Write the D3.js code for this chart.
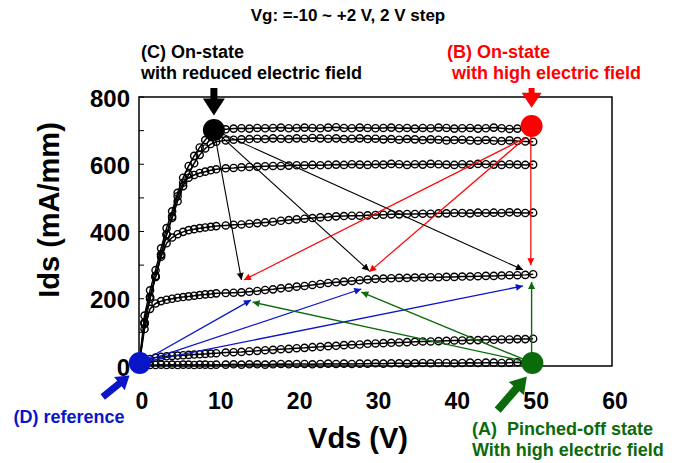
<!DOCTYPE html>
<html><head><meta charset="utf-8">
<script src="https://cdn.jsdelivr.net/npm/d3@7"></script>
<style>
body{margin:0;background:#fff}
text{font-family:"Liberation Sans",Arial,sans-serif;font-weight:bold}
</style>
</head><body><svg id="c" width="680" height="463"></svg>
<script>
// ---- data ----
const vds = [0,0.7,1.4,2.1,2.8,3.5,4.2,4.9,5.6,6.3,7,7.7,8.4,9.1,9.8,
  11,12,13,14,15,16,17,18,19,20,21,22,23,24,25,26,27,28,29,30,
  31,32,33,34,35,36,37,38,39,40,41,42,43,44,45,46,47,48,49,50];
const vgSteps = ["+2","0","-2","-4","-6","-8","-10"];
const ids_p2 = [0,150,225,285,350,410,460,515,560,595,625,650,672,690,700,
  704,706,707,706,708,707,708,709,707,708,709,708,707,709,710,708,707,709,708,707,
  708,709,707,708,706,708,707,709,708,706,707,708,706,707,709,707,705,706,707,706];
const ids_0 = [0,130,205,265,330,390,440,490,535,570,603,628,647,660,667,
  671,673,674,675,676,675,677,676,675,677,676,678,677,676,677,675,676,677,675,676,
  674,675,673,675,674,672,674,673,671,672,673,671,670,672,670,669,671,669,668,667];
const ids_m2 = [0,128,205,268,332,392,445,505,545,560,568,574,578,582,585,
  588,589,591,592,593,594,595,595,596,597,597,598,597,598,599,598,600,599,598,600,
  599,601,600,598,600,599,601,600,599,598,600,599,601,600,599,598,600,599,598,599];
const ids_m4 = [0,125,200,265,325,365,382,392,399,404,407,410,412,414,416,
  418,420,421,423,425,427,429,432,434,436,438,440,442,443,445,446,447,447,448,449,
  450,451,451,452,452,453,453,454,454,455,455,454,456,455,456,455,457,456,455,456];
const ids_m6 = [0,110,170,186,193,197,200,203,205,207,209,211,213,214,216,
  217,218,219,221,223,226,228,231,233,236,238,241,244,247,249,251,253,255,257,259,
  260,261,262,262,263,263,264,264,265,265,266,266,267,268,268,269,270,270,271,273];
const ids_m8 = [0,14,21,25,27,29,30,31,32,33,34,35,36,37,38,
  40,41,42,44,45,47,48,50,51,53,54,56,57,59,60,62,63,64,66,67,
  68,69,70,71,72,73,73,74,75,76,76,77,77,78,78,79,79,80,80,81];
const ids_m10 = [0,2,3,3,4,3,4,3,4,4,3,4,4,3,4,
  4,5,4,5,5,4,5,6,5,6,6,5,6,7,6,7,6,7,7,8,
  7,8,8,7,8,9,8,9,9,8,9,10,9,10,10,9,10,11,10,11];
const curves = [ids_p2, ids_0, ids_m2, ids_m4, ids_m6, ids_m8, ids_m10];

const xTicks = [0,10,20,30,40,50,60];
const yTicks = [0,200,400,600,800];
const yMinor = [100,300,500,700];

// state points [Vds, Ids]
const stateA = [49.9, 9], stateB = [49.8, 714], stateC = [9.5, 702], stateD = [0.1, 9];
// thin arrows: from -> to (data units)
const blackArrows = [[[9.5,702],[13.0,256]],[[9.5,702],[29.2,283]],[[9.5,702],[48.7,286]]];
const redArrows   = [[[49,678],[13.3,256]],[[49,678],[29.2,280]],[[49.7,700],[49.7,300]]];
const blueArrows  = [[[0.1,9],[14.2,196]],[[0.1,9],[28.2,229]],[[0.1,9],[48.7,238]]];
const greenArrows = [[[49.9,9],[14.4,190]],[[49.9,9],[28.2,220]],[[49.8,9],[49.8,250]]];
// big arrows: tail -> tip
const bigArrows = [
  {from:[9.5,827], to:[9.5,745], color:"#000000", sw:7, hw:22, hl:17},
  {from:[49.8,827], to:[49.8,768], color:"#ff0000", sw:6, hw:20, hl:15},
  {from:[-4.6,-92], to:[-1.2,-28], color:"#0a14c8", sw:7, hw:17, hl:13},
  {from:[45.5,-131], to:[49.2,-31], color:"#0b6b0b", sw:8, hw:20, hl:16}
];

// ---- drawing ----
const svg = d3.select("#c");
const x = d3.scaleLinear().domain([0,60]).range([139,612]);
const y = d3.scaleLinear().domain([0,800]).range([366,97]);

const defs = svg.append("defs");
function marker(id, color){
  defs.append("marker").attr("id",id).attr("viewBox","0 0 10 10")
    .attr("refX",10).attr("refY",5).attr("markerWidth",9).attr("markerHeight",7)
    .attr("markerUnits","userSpaceOnUse").attr("orient","auto")
    .append("path").attr("d","M0,0L10,5L0,10Z").attr("fill",color);
}
marker("mk","#000"); marker("mr","#ff0000"); marker("mb","#0a14c8"); marker("mg","#0b6b0b");

// frame
svg.append("rect").attr("x",x(0)).attr("y",y(800)).attr("width",x(60)-x(0)).attr("height",y(0)-y(800))
  .attr("fill","none").attr("stroke","#000").attr("stroke-width",1.5);

// y ticks (inside)
svg.append("g").selectAll("line").data(yTicks.concat(yMinor)).join("line")
  .attr("x1",x(0)).attr("x2",x(0)+5).attr("y1",d=>y(d)).attr("y2",d=>y(d))
  .attr("stroke","#000").attr("stroke-width",1);
svg.append("g").selectAll("text").data(yTicks).join("text")
  .attr("x",x(0)-9).attr("y",d=>y(d)+1).attr("text-anchor","end").attr("dominant-baseline","central")
  .attr("font-size",24).text(d=>d);
svg.append("g").selectAll("text").data(xTicks).join("text")
  .attr("x",d=>x(d)+3).attr("y",401).attr("text-anchor","middle").attr("dominant-baseline","central")
  .attr("font-size",23).text(d=>d);

// axis titles
svg.append("text").attr("x",358).attr("y",438).attr("text-anchor","middle").attr("dominant-baseline","central")
  .attr("font-size",29).text("Vds (V)");
svg.append("text").attr("transform","translate(59,210) rotate(-90)").attr("text-anchor","middle")
  .attr("font-size",29).text("Ids (mA/mm)");

// title
svg.append("text").attr("x",348).attr("y",15).attr("text-anchor","middle").attr("dominant-baseline","central")
  .attr("font-size",17).text("Vg: =-10 ~ +2 V, 2 V step");

// curves
const line = d3.line().x(d=>x(d[0])).y(d=>y(d[1]));
const cg = svg.append("g");
curves.forEach((c,i)=>{
  const pts = vds.map((v,j)=>[v,c[j]]);
  cg.append("path").attr("d",line(pts)).attr("fill","none").attr("stroke","#000").attr("stroke-width",1.5);
  cg.append("g").selectAll("circle").data(pts).join("circle")
    .attr("cx",d=>x(d[0])).attr("cy",d=>y(d[1])).attr("r",3.6)
    .attr("fill","none").attr("stroke","#000").attr("stroke-width",1.4);
});

// thin arrows
function thin(arr, color, mk, w){
  svg.append("g").selectAll("line").data(arr).join("line")
    .attr("x1",d=>x(d[0][0])).attr("y1",d=>y(d[0][1]))
    .attr("x2",d=>x(d[1][0])).attr("y2",d=>y(d[1][1]))
    .attr("stroke",color).attr("stroke-width",w).attr("marker-end",`url(#${mk})`);
}
thin(blackArrows,"#000","mk",1.1);
thin(redArrows,"#ff0000","mr",1.2);
thin(blueArrows,"#0a14c8","mb",1.3);
thin(greenArrows,"#0b6b0b","mg",1.4);

// state dots
const dots = [[stateC,"#000000"],[stateB,"#ff0000"],[stateD,"#0a14c8"],[stateA,"#0b6b0b"]];
svg.append("g").selectAll("circle").data(dots).join("circle")
  .attr("cx",d=>x(d[0][0])).attr("cy",d=>y(d[0][1])).attr("r",11).attr("fill",d=>d[1]);

// big arrows
function bigArrowPath(a){
  const x1=x(a.from[0]), y1=y(a.from[1]), x2=x(a.to[0]), y2=y(a.to[1]);
  const L=Math.hypot(x2-x1,y2-y1), ux=(x2-x1)/L, uy=(y2-y1)/L, nx=-uy, ny=ux;
  const bx=x2-ux*a.hl, by=y2-uy*a.hl, s=a.sw/2, h=a.hw/2;
  const p=[[x1+nx*s,y1+ny*s],[bx+nx*s,by+ny*s],[bx+nx*h,by+ny*h],[x2,y2],
           [bx-nx*h,by-ny*h],[bx-nx*s,by-ny*s],[x1-nx*s,y1-ny*s]];
  return "M"+p.map(q=>q.join(",")).join("L")+"Z";
}
svg.append("g").selectAll("path").data(bigArrows).join("path")
  .attr("d",bigArrowPath).attr("fill",d=>d.color);

// annotations
function label(lines, color, anchor){
  lines.forEach(l=>{
    svg.append("text").attr("x",l[0]).attr("y",l[1]).attr("fill",color)
      .attr("text-anchor",anchor).attr("dominant-baseline","central")
      .attr("font-size",18).style("white-space","pre").text(l[2]);
  });
}
label([[141,52,"(C) On-state"],[141,73,"with reduced electric field"]],"#000","start");
label([[447,52,"(B) On-state"],[452,73,"with high electric field"]],"#ff0000","start");
label([[69,417,"(D) reference"]],"#0a14c8","middle");
label([[472,429,"(A)  Pinched-off state"],[472,450,"With high electric field"]],"#0b6b0b","start");
</script></body></html>
